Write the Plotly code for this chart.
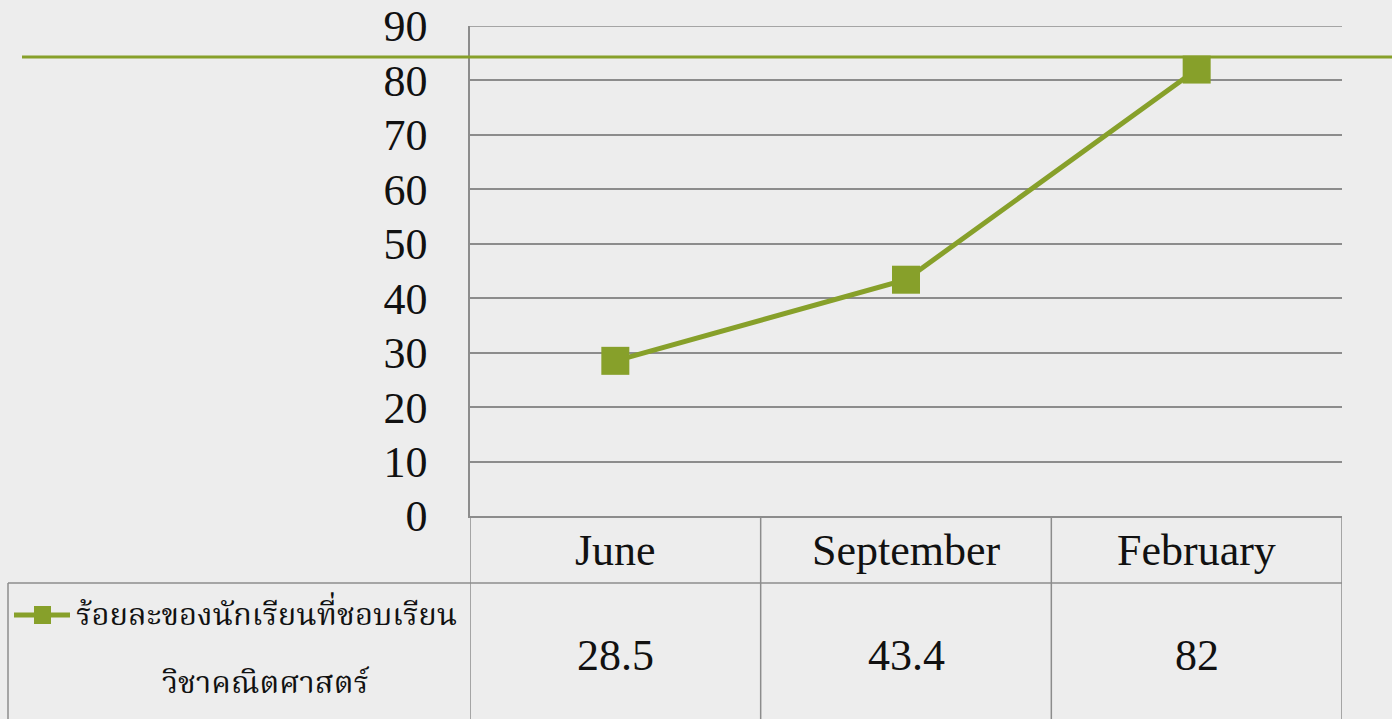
import plotly.graph_objects as go

categories = ["June", "September", "February"]
values = [28.5, 43.4, 82]
value_labels = ["28.5", "43.4", "82"]
series_name_line1 = "ร้อยละของนักเรียนที่ชอบเรียน"
series_name_line2 = "วิชาคณิตศาสตร์"
y_ticks = [0, 10, 20, 30, 40, 50, 60, 70, 80, 90]

GREEN = "#87A02A"
GRID = "#8c8c8c"
BG = "#ededed"
FONT = "Liberation Serif, Times New Roman, serif"
THAI_FONT = "Noto Serif Thai, Noto Sans Thai Looped, Kinnari, Norasi, Noto Sans Thai, Loma, Garuda, Liberation Serif, serif"

W, H = 1392, 719
L, R, T, B = 470, 50, 26, 203
ph = H - T - B  # plot height in px
pw = W - L - R


def py(px):
    return (H - B - px) / ph


def px_x(px):
    return (px - L) / pw


fig = go.Figure()
fig.add_trace(go.Scatter(
    x=categories, y=values, mode="lines+markers",
    line=dict(color=GREEN, width=5),
    marker=dict(symbol="square", size=28, color=GREEN),
    showlegend=False, cliponaxis=False,
))

shapes = []
# top gridline (at range max)
shapes.append(dict(type="line", xref="paper", yref="y",
                   x0=0, x1=1, y0=max(y_ticks), y1=max(y_ticks),
                   line=dict(color=GRID, width=1.5), layer="below"))
# decorative slide line
shapes.append(dict(type="line", xref="paper", yref="paper",
                   x0=px_x(22), x1=px_x(1392), y0=py(57), y1=py(57),
                   line=dict(color=GREEN, width=3), layer="above"))
# table lines
row1_bottom = py(583)
row2_bottom = py(719)
for i in range(len(categories) + 1):
    shapes.append(dict(type="line", xref="x", yref="paper",
                       x0=i - 0.5, x1=i - 0.5, y0=0, y1=row2_bottom,
                       line=dict(color=GRID, width=1.5)))
shapes.append(dict(type="line", xref="paper", yref="paper",
                   x0=px_x(8), x1=1, y0=row1_bottom, y1=row1_bottom,
                   line=dict(color=GRID, width=1.5)))
shapes.append(dict(type="line", xref="paper", yref="paper",
                   x0=px_x(8), x1=px_x(8), y0=row1_bottom, y1=row2_bottom,
                   line=dict(color=GRID, width=1.5)))
# legend key
shapes.append(dict(type="line", xref="paper", yref="paper",
                   x0=px_x(14), x1=px_x(70), y0=py(615), y1=py(615),
                   line=dict(color=GREEN, width=5)))
shapes.append(dict(type="rect", xref="paper", yref="paper",
                   x0=px_x(34), x1=px_x(51), y0=py(606), y1=py(624),
                   fillcolor=GREEN, line=dict(width=0)))

annotations = []
for cat, lab in zip(categories, value_labels):
    annotations.append(dict(x=cat, xref="x", y=py(550), yref="paper",
                            text=cat, showarrow=False,
                            font=dict(family=FONT, size=44, color="#111111"),
                            xanchor="center", yanchor="middle"))
    annotations.append(dict(x=cat, xref="x", y=py(655), yref="paper",
                            text=lab, showarrow=False,
                            font=dict(family=FONT, size=44, color="#111111"),
                            xanchor="center", yanchor="middle"))
annotations.append(dict(x=px_x(266), xref="paper", y=py(617), yref="paper",
                        text=series_name_line1, showarrow=False,
                        font=dict(family=THAI_FONT, size=31, color="#111111"),
                        xanchor="center", yanchor="middle"))
annotations.append(dict(x=px_x(266), xref="paper", y=py(685), yref="paper",
                        text=series_name_line2, showarrow=False,
                        font=dict(family=THAI_FONT, size=31, color="#111111"),
                        xanchor="center", yanchor="middle"))

fig.update_layout(
    width=W, height=H,
    margin=dict(l=L, r=R, t=T, b=B, pad=0, autoexpand=False),
    paper_bgcolor=BG, plot_bgcolor=BG,
    shapes=shapes, annotations=annotations,
    xaxis=dict(type="category", range=[-0.5, 2.5], showticklabels=False,
               showgrid=False, zeroline=False, showline=True,
               linecolor=GRID, linewidth=1.5, fixedrange=True,
               automargin=False),
    yaxis=dict(range=[0, 90], tickvals=y_ticks, showgrid=True,
               gridcolor=GRID, gridwidth=1.5, zeroline=False,
               showline=True, linecolor=GRID, linewidth=1.5,
               ticks="outside", ticklen=32, tickcolor="rgba(0,0,0,0)",
               tickfont=dict(family=FONT, size=44, color="#111111"),
               fixedrange=True, automargin=False),
)

fig.write_html(
    "out.html",
    config={"displayModeBar": False},
    post_script="document.body.style.margin='0';document.body.style.overflow='hidden';",
)
